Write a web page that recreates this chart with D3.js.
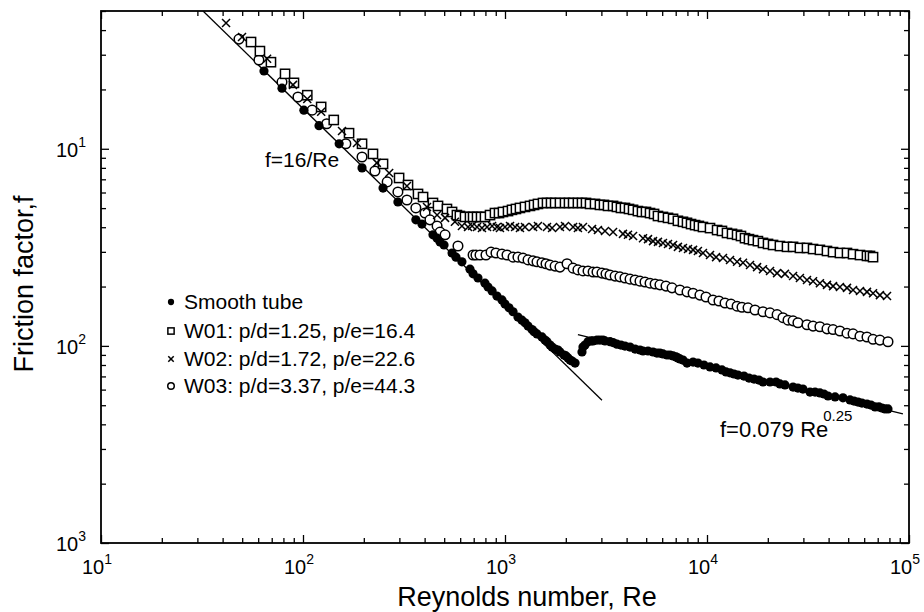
<!DOCTYPE html>
<html>
<head>
<meta charset="utf-8">
<script src="https://cdn.jsdelivr.net/npm/d3@7/dist/d3.min.js"></script>
<style>
  html, body { margin: 0; padding: 0; background: #fff; }
  svg { display: block; }
  text { font-family: "Liberation Sans", Arial, Helvetica, sans-serif; fill: #000; }
</style>
</head>
<body>
<svg id="chart" width="924" height="612"></svg>
<script>
// Measured [Re, f] pairs for each tube
const smoothTube = [
  [64.1, 0.248], [78.7, 0.203], [101, 0.157], [120, 0.131], [151, 0.106], [196, 0.080], [249, 0.0632], [295, 0.0537],
  [362, 0.0436], [388, 0.0415], [440, 0.0366], [461, 0.0352], [477, 0.0337], [499, 0.0325], [547, 0.0296], [572, 0.0282],
  [612, 0.0267], [671, 0.0245], [695, 0.0232], [735, 0.0221], [796, 0.0208], [824, 0.0199], [863, 0.0190], [912, 0.0179],
  [966, 0.0171], [1000, 0.0163], [1047, 0.0156], [1096, 0.0149], [1159, 0.0140], [1213, 0.0135], [1256, 0.0131], [1300, 0.0126],
  [1361, 0.0121], [1393, 0.0118], [1440, 0.0115], [1524, 0.0111], [1578, 0.0107], [1614, 0.0105], [1671, 0.0101], [1710, 0.00986],
  [1770, 0.00964], [1829, 0.00953], [1871, 0.00931], [1959, 0.00899], [2004, 0.00889], [2051, 0.00869], [2099, 0.00847], [2148, 0.00838],
  [2223, 0.00818],
  [2405, 0.00931], [2432, 0.00986], [2489, 0.0101], [2576, 0.0105], [2667, 0.0106], [2729, 0.0106], [2853, 0.0107], [2951, 0.0107],
  [3055, 0.0107], [3126, 0.0106], [3311, 0.0105], [3428, 0.0104], [3581, 0.0102], [3750, 0.0101], [3926, 0.00998], [4159, 0.00986],
  [4406, 0.00964], [4659, 0.00953], [4822, 0.00942], [5105, 0.00942], [5405, 0.00931], [5654, 0.00920], [5848, 0.00920], [6053, 0.00910],
  [6339, 0.00899], [6561, 0.00899], [6792, 0.00889], [7031, 0.00879], [7178, 0.00869], [7345, 0.00859], [7603, 0.00847], [7962, 0.00818],
  [8531, 0.00828], [9016, 0.00818], [9660, 0.00800], [10350, 0.00782], [11090, 0.00773], [11860, 0.00755], [12420, 0.00738], [13000, 0.00730],
  [13610, 0.00720], [14230, 0.00711], [15240, 0.00703], [16140, 0.00687], [17100, 0.00679], [18080, 0.00671], [18930, 0.00656], [20510, 0.00656],
  [21980, 0.00656], [22960, 0.00641], [24320, 0.00634], [26670, 0.00618], [28190, 0.00611], [29850, 0.00604], [32360, 0.00583], [34270, 0.00583],
  [36220, 0.00577], [37930, 0.00570], [39720, 0.00557], [43050, 0.00551], [47110, 0.00545], [51050, 0.00532], [53460, 0.00525], [55980, 0.00519],
  [58480, 0.00513], [61940, 0.00507], [64860, 0.00501], [67920, 0.00490], [70980, 0.00490], [73450, 0.00484], [76030, 0.00479], [78700, 0.00479]
];

const tubeW01 = [
  [55.3, 0.348], [61.2, 0.313], [69.4, 0.275], [81.5, 0.240], [90.2, 0.216], [105, 0.187], [123, 0.163], [142, 0.140],
  [169, 0.120], [196, 0.106], [222, 0.0942], [249, 0.0838], [299, 0.0711], [331, 0.0655], [371, 0.0590], [393, 0.0569],
  [440, 0.0531], [466, 0.0513], [516, 0.0495], [547, 0.0478], [578, 0.0461], [598, 0.0456], [634, 0.0451], [671, 0.0451],
  [695, 0.0451], [727, 0.0451], [761, 0.0451], [796, 0.0451], [843, 0.0461], [892, 0.0472], [934, 0.0472], [977, 0.0478],
  [1035, 0.0483], [1083, 0.0490], [1133, 0.0495], [1186, 0.0501], [1256, 0.0507], [1330, 0.0513], [1393, 0.0519], [1456, 0.0525],
  [1542, 0.0531], [1614, 0.0531], [1690, 0.0531], [1770, 0.0531], [1871, 0.0531], [1982, 0.0531], [2074, 0.0531], [2173, 0.0531],
  [2296, 0.0531], [2405, 0.0531], [2518, 0.0531], [2636, 0.0525], [2790, 0.0525], [2951, 0.0519], [3090, 0.0519], [3236, 0.0513],
  [3428, 0.0513], [3581, 0.0507], [3750, 0.0501], [3926, 0.0501], [4111, 0.0495], [4305, 0.0490], [4550, 0.0483], [4766, 0.0478],
  [4989, 0.0478], [5224, 0.0472], [5470, 0.0467], [5718, 0.0456], [6053, 0.0451], [6412, 0.0446], [6792, 0.0441], [7178, 0.0431],
  [7603, 0.0426], [7962, 0.0421], [8337, 0.0415], [8730, 0.0410], [9120, 0.0406], [9550, 0.0401], [10350, 0.0396], [11220, 0.0387],
  [11860, 0.0383], [12560, 0.0374], [13300, 0.0370], [14090, 0.0366], [14730, 0.0361], [15420, 0.0352], [16140, 0.0348], [16900, 0.0344],
  [17870, 0.0340], [18930, 0.0333], [20050, 0.0329], [21230, 0.0325], [22960, 0.0321], [24890, 0.0318], [26670, 0.0318], [28840, 0.0314],
  [31260, 0.0314], [33500, 0.0310], [36220, 0.0307], [39260, 0.0303], [42070, 0.0299], [45500, 0.0296], [49320, 0.0296], [52840, 0.0292],
  [57190, 0.0289], [61940, 0.0286], [64120, 0.0286], [66370, 0.0282]
];

const tubeW02 = [
  [41.6, 0.435], [49.9, 0.369], [66.4, 0.286], [89.2, 0.211], [105, 0.179], [123, 0.154], [156, 0.123], [185, 0.107],
  [232, 0.0848], [267, 0.0753], [327, 0.0647], [411, 0.0507], [461, 0.0461], [505, 0.0446], [565, 0.0426], [612, 0.0406],
  [656, 0.0401], [687, 0.0406], [727, 0.0401], [769, 0.0396], [815, 0.0401], [863, 0.0406], [912, 0.0401], [944, 0.0396],
  [1000, 0.0401], [1059, 0.0406], [1122, 0.0401], [1186, 0.0396], [1256, 0.0401], [1377, 0.0401], [1456, 0.0406], [1614, 0.0401],
  [1710, 0.0396], [1871, 0.0401], [1982, 0.0406], [2173, 0.0401], [2296, 0.0396], [2432, 0.0401], [2698, 0.0392], [2884, 0.0387],
  [3126, 0.0383], [3428, 0.0378], [3837, 0.0370], [4064, 0.0366], [4305, 0.0361], [4822, 0.0352], [5105, 0.0348], [5405, 0.0340],
  [5718, 0.0337], [6053, 0.0333], [6412, 0.0329], [6792, 0.0325], [7178, 0.0318], [7603, 0.0314], [8054, 0.0310], [8531, 0.0307],
  [9016, 0.0303], [9550, 0.0296], [10350, 0.0289], [11090, 0.0282], [12000, 0.0279], [13000, 0.0273], [14090, 0.0267], [15070, 0.0264],
  [16330, 0.0257], [17700, 0.0251], [18930, 0.0245], [20510, 0.0240], [22230, 0.0234], [24320, 0.0232], [26670, 0.0226], [28840, 0.0221],
  [31260, 0.0216], [33500, 0.0213], [36220, 0.0208], [39260, 0.0204], [42070, 0.0201], [45500, 0.0199], [49320, 0.0197], [52840, 0.0192],
  [57190, 0.0190], [61940, 0.0188], [66370, 0.0185], [71780, 0.0181], [77840, 0.0179]
];

const tubeW03 = [
  [48.2, 0.360], [60.5, 0.282], [78.7, 0.218], [94.4, 0.183], [111, 0.157], [131, 0.134], [163, 0.106], [196, 0.0908],
  [227, 0.0771], [261, 0.0679], [295, 0.0604], [327, 0.0550], [362, 0.0501], [402, 0.0472], [425, 0.0436], [461, 0.0406],
  [477, 0.0378], [505, 0.0366], [585, 0.0321], [695, 0.0289], [718, 0.0289], [752, 0.0289], [805, 0.0289], [853, 0.0299],
  [902, 0.0296], [966, 0.0292], [1023, 0.0289], [1096, 0.0282], [1159, 0.0282], [1228, 0.0279], [1300, 0.0273], [1377, 0.0270],
  [1440, 0.0267], [1524, 0.0264], [1596, 0.0261], [1671, 0.0257], [1770, 0.0254], [1871, 0.0251], [2028, 0.0261], [2173, 0.0248],
  [2296, 0.0243], [2432, 0.0240], [2576, 0.0240], [2729, 0.0237], [2853, 0.0237], [3020, 0.0234], [3162, 0.0232], [3311, 0.0229],
  [3508, 0.0226], [3707, 0.0224], [3926, 0.0221], [4159, 0.0218], [4406, 0.0216], [4659, 0.0213], [4932, 0.0211], [5224, 0.0208],
  [5534, 0.0206], [5848, 0.0204], [6266, 0.0201], [6714, 0.0197], [7345, 0.0192], [7962, 0.0188], [8531, 0.0185], [9226, 0.0181],
  [9886, 0.0177], [10710, 0.0171], [11460, 0.0169], [12280, 0.0165], [13150, 0.0163], [14090, 0.0159], [14900, 0.0157], [15960, 0.0156],
  [17290, 0.0152], [18930, 0.0149], [20510, 0.0147], [22230, 0.0144], [23770, 0.0139], [25180, 0.0135], [26670, 0.0134], [28190, 0.0131],
  [31260, 0.0128], [33500, 0.0126], [36220, 0.0125], [39260, 0.0122], [42070, 0.0121], [45500, 0.0119], [49320, 0.0116], [52840, 0.0115],
  [57190, 0.0112], [61940, 0.0111], [66370, 0.0108], [71780, 0.0107], [78700, 0.0105]
];

const seriesNames = ["Smooth tube", "W01: p/d=1.25, p/e=16.4", "W02: p/d=1.72, p/e=22.6", "W03: p/d=3.37, p/e=44.3"];

// Correlation lines: laminar f=16/Re and turbulent f=0.079 Re^-0.25
const laminarRange = [32, 3020];
const turbulentRange = [2296, 93300];

// Axis ticks and their labels (base 10 with exponent)
const xMajor = [10, 100, 1000, 10000, 100000];
const xExp = ["1", "2", "3", "4", "5"];
const yMajor = [0.1, 0.01, 0.001];
const yExp = ["1", "2", "3"];

const svg = d3.select("#chart");
const x = d3.scaleLog().domain([10, 1e5]).range([101, 909]);
const y = d3.scaleLog().domain([0.001, 0.5]).range([543, 11]);

const L = 101, R = 909, T = 11, B = 543;

// minor tick values
const xMinor = [];
for (let e = 1; e < 5; e++) for (let m = 2; m <= 9; m++) xMinor.push(m * Math.pow(10, e));
const yMinor = [];
for (let e = -3; e < 0; e++) for (let m = 2; m <= 9; m++) { const v = m * Math.pow(10, e); if (v <= 0.5) yMinor.push(v); }

const axes = svg.append("g");
function addAxis(axisFn, scale, vals, size, transform) {
  const a = axisFn(scale).tickValues(vals).tickSize(-size).tickFormat("").tickSizeOuter(0);
  const g = axes.append("g").attr("transform", transform).call(a);
  g.select(".domain").remove();
  g.selectAll("line").attr("stroke", "#000").attr("stroke-width", 1.3);
}
addAxis(d3.axisBottom, x, xMajor, 8, `translate(0,${B})`);
addAxis(d3.axisBottom, x, xMinor, 5, `translate(0,${B})`);
addAxis(d3.axisTop, x, xMajor, 8, `translate(0,${T})`);
addAxis(d3.axisTop, x, xMinor, 5, `translate(0,${T})`);
addAxis(d3.axisLeft, y, yMajor, 8, `translate(${L},0)`);
addAxis(d3.axisLeft, y, yMinor, 5, `translate(${L},0)`);
addAxis(d3.axisRight, y, yMajor, 8, `translate(${R},0)`);
addAxis(d3.axisRight, y, yMinor, 5, `translate(${R},0)`);

axes.append("rect").attr("x", L).attr("y", T).attr("width", R - L).attr("height", B - T)
  .attr("fill", "none").attr("stroke", "#000").attr("stroke-width", 1.8);

// tick labels
xMajor.forEach((v, i) => {
  const t = svg.append("text").attr("x", x(v) - 4).attr("y", 574).attr("text-anchor", "middle").attr("font-size", 20);
  t.append("tspan").text("10");
  t.append("tspan").attr("dy", -10).attr("font-size", 14).text(xExp[i]);
});
yMajor.forEach((v, i) => {
  const t = svg.append("text").attr("x", 86).attr("y", y(v) + 8).attr("text-anchor", "end").attr("font-size", 20);
  t.append("tspan").text("10");
  t.append("tspan").attr("dy", -10).attr("font-size", 14).text(yExp[i]);
});

// axis titles
svg.append("text").attr("x", 527).attr("y", 606).attr("text-anchor", "middle").attr("font-size", 27)
  .text("Reynolds number, Re");
svg.append("text").attr("transform", "translate(33,284) rotate(-90)").attr("text-anchor", "middle").attr("font-size", 27)
  .text("Friction factor,f");

const plot = svg.append("g");
plot.append("clipPath").attr("id", "clip").append("rect").attr("x", L).attr("y", T).attr("width", R - L).attr("height", B - T);

// correlation lines
const line = d3.line().x(d => x(d[0])).y(d => y(d[1]));
plot.append("path").attr("clip-path", "url(#clip)")
  .attr("d", line(laminarRange.map(re => [re, 16 / re])))
  .attr("fill", "none").attr("stroke", "#000").attr("stroke-width", 1.3);
plot.append("path")
  .attr("d", line(turbulentRange.map(re => [re, 0.079 * Math.pow(re, -0.25)])))
  .attr("fill", "none").attr("stroke", "#000").attr("stroke-width", 1.3);

// marker shapes
function drawMarker(g, kind, cx, cy, s) {
  if (kind === "dot") {
    g.append("circle").attr("cx", cx).attr("cy", cy).attr("r", 4.6 * s).attr("fill", "#000");
  } else if (kind === "square") {
    const h = 4.6 * s;
    g.append("rect").attr("x", cx - h).attr("y", cy - h).attr("width", 2 * h).attr("height", 2 * h)
      .attr("fill", "#fff").attr("stroke", "#000").attr("stroke-width", 1.5);
  } else if (kind === "cross") {
    const h = 4 * s;
    g.append("path").attr("d", `M${cx - h},${cy - h}L${cx + h},${cy + h}M${cx - h},${cy + h}L${cx + h},${cy - h}`)
      .attr("stroke", "#000").attr("stroke-width", 1.5).attr("fill", "none");
  } else {
    g.append("circle").attr("cx", cx).attr("cy", cy).attr("r", 4.8 * s)
      .attr("fill", "#fff").attr("stroke", "#000").attr("stroke-width", 1.5);
  }
}

const series = [
  { kind: "dot", data: smoothTube },
  { kind: "square", data: tubeW01 },
  { kind: "cross", data: tubeW02 },
  { kind: "circle", data: tubeW03 }
];
// open symbols first, filled dots on top
[3, 1, 2, 0].forEach(k => {
  const s = series[k];
  const g = plot.append("g");
  s.data.forEach(d => drawMarker(g, s.kind, x(d[0]), y(d[1]), 1));
});

// annotations
svg.append("text").attr("x", 265).attr("y", 167).attr("font-size", 21).text("f=16/Re");
const turb = svg.append("text").attr("x", 720).attr("y", 437).attr("font-size", 22);
turb.append("tspan").text("f=0.079 Re");
turb.append("tspan").attr("dx", -5).attr("dy", -16).attr("font-size", 15).text("0.25");

// legend
const legend = svg.append("g");
const legendY = [302, 331, 359, 386];
series.forEach((s, i) => {
  drawMarker(legend, s.kind, 171, legendY[i], 0.68);
  legend.append("text").attr("x", 184).attr("y", legendY[i] + 7).attr("font-size", 21).text(seriesNames[i]);
});
</script>
</body>
</html>
